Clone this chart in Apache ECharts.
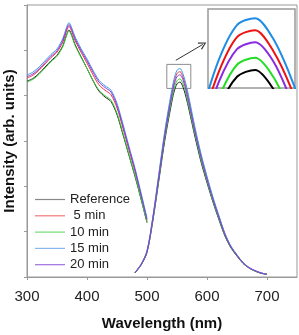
<!DOCTYPE html>
<html>
<head>
<meta charset="utf-8">
<script src="https://cdn.jsdelivr.net/npm/echarts@6/dist/echarts.min.js"></script>
<style>html,body{margin:0;padding:0;background:#fff;}#c{width:299px;height:335px;}</style>
</head>
<body>
<div id="c"></div>
<script>
const names = ['Reference', ' 5 min', '10 min', '15 min', '20 min'];
const xTicks = [300, 400, 500, 600, 700];

// Excitation spectra
const excWl = [300,310,320,330,340,350,360,365,370,375,380,390,400,410,420,430,440,450,460,470,480,490,500];
const excRef = [4.32,4.38,4.49,4.63,4.77,4.89,5.11,5.31,5.45,5.32,5.13,4.86,4.60,4.33,4.10,3.97,3.87,3.58,3.14,2.68,2.22,1.72,1.20];
const exc5   = [4.39,4.45,4.56,4.70,4.84,4.96,5.19,5.39,5.53,5.40,5.22,4.96,4.72,4.46,4.24,4.12,4.02,3.73,3.28,2.80,2.33,1.80,1.25];
const exc10  = [4.30,4.36,4.47,4.61,4.75,4.87,5.09,5.29,5.43,5.30,5.11,4.85,4.60,4.34,4.12,4.00,3.90,3.61,3.17,2.70,2.24,1.73,1.21];
const exc15  = [4.46,4.52,4.63,4.77,4.91,5.03,5.27,5.47,5.61,5.48,5.30,5.04,4.81,4.56,4.34,4.22,4.12,3.83,3.37,2.88,2.40,1.86,1.30];
const exc20  = [4.42,4.48,4.59,4.73,4.87,4.99,5.23,5.43,5.57,5.44,5.26,5.00,4.77,4.52,4.30,4.18,4.08,3.78,3.32,2.84,2.36,1.82,1.27];

// Emission spectra
const emWl  = [480,490,500,510,520,530,540,545,550,555,560,565,570,580,590,600,610,620,630,640,650,660,670,680,690,700];
const emRef = [0.09,0.26,0.54,1.26,2.15,3.04,3.77,4.08,4.26,4.30,4.19,3.97,3.69,3.09,2.54,2.08,1.65,1.26,0.90,0.64,0.46,0.30,0.20,0.13,0.08,0.06];
const em5   = [0.10,0.28,0.57,1.33,2.27,3.20,3.97,4.29,4.49,4.53,4.41,4.19,3.89,3.25,2.68,2.19,1.73,1.33,0.95,0.67,0.48,0.32,0.21,0.14,0.09,0.06];
const em10  = [0.10,0.27,0.55,1.28,2.19,3.09,3.83,4.14,4.33,4.37,4.26,4.04,3.75,3.14,2.58,2.11,1.67,1.28,0.91,0.65,0.47,0.30,0.20,0.13,0.09,0.06];
const em15  = [0.10,0.28,0.58,1.35,2.30,3.25,4.03,4.36,4.56,4.60,4.48,4.25,3.95,3.30,2.72,2.22,1.76,1.35,0.96,0.68,0.49,0.32,0.21,0.14,0.09,0.06];
const em20  = [0.10,0.27,0.56,1.31,2.23,3.15,3.91,4.23,4.42,4.46,4.35,4.12,3.83,3.20,2.64,2.15,1.71,1.31,0.93,0.66,0.48,0.31,0.20,0.14,0.09,0.06];

// Zoom box, arrow and inset window (data coordinates)
const zoomBoxX = [533, 573];
const zoomBoxY = [4.16, 4.69];
const arrowFrom = [548, 4.78];
const arrowTo = [593, 5.13];
const insetX = [542, 566];
const insetY = [4.195, 4.653];

const excSets = [excRef, exc5, exc10, exc15, exc20];
const emSets = [emRef, em5, em10, em15, em20];
const mainColors = ['#222222', '#ee3344', '#33cc33', '#3d9be9', '#8a3adf'];
const insetColors = ['#000000', '#ee1111', '#22dd22', '#1e8ce6', '#8a2be2'];
const legendColors = ['#888888', '#f07878', '#70dd70', '#88b8f0', '#a070e0'];

const zip = (xs, ys) => xs.map((x, i) => [x, ys[i]]);
const FONT = 'Liberation Sans, Arial, sans-serif';

const series = [];
names.forEach((n, i) => {
  series.push({
    name: n, type: 'line', xAxisIndex: 0, yAxisIndex: 0, smooth: 0.3,
    symbol: 'none', data: zip(excWl, excSets[i]),
    lineStyle: { color: mainColors[i], width: 1 }, itemStyle: { color: mainColors[i] }
  });
});
names.forEach((n, i) => {
  const s = {
    name: n, type: 'line', xAxisIndex: 0, yAxisIndex: 0, smooth: 0.3,
    symbol: 'none', data: zip(emWl, emSets[i]),
    lineStyle: { color: mainColors[i], width: 1 }, itemStyle: { color: mainColors[i] }
  };
  if (i === 0) {
    s.markArea = {
      silent: true,
      itemStyle: { color: 'rgba(0,0,0,0)', borderColor: '#8c8c8c', borderWidth: 1 },
      label: { show: false },
      data: [[{ coord: [zoomBoxX[0], zoomBoxY[1]] }, { coord: [zoomBoxX[1], zoomBoxY[0]] }]]
    };
    s.markLine = {
      silent: true, animation: false,
      symbol: ['none', 'path://M5,0 L10,9 L8.8,10 L5,2.6 L1.2,10 L0,9 Z'],
      symbolSize: 8,
      label: { show: false },
      lineStyle: { color: '#333', width: 1, type: 'solid' },
      data: [[{ coord: arrowFrom }, { coord: arrowTo }]]
    };
  }
  series.push(s);
});
names.forEach((n, i) => {
  series.push({
    name: 'inset' + i, type: 'line', xAxisIndex: 1, yAxisIndex: 1, smooth: 0.3,
    symbol: 'none', data: zip(emWl, emSets[i]), clip: true, z: 10,
    lineStyle: { color: insetColors[i], width: 2 }, itemStyle: { color: insetColors[i] }
  });
});

const chart = echarts.init(document.getElementById('c'), null, { renderer: 'canvas' });
chart.setOption({
  animation: false,
  backgroundColor: '#fff',
  textStyle: { fontFamily: FONT },
  legend: {
    orient: 'vertical', left: 35, top: 193, padding: 0,
    itemWidth: 30, itemHeight: 10, itemGap: 3.3,
    textStyle: { fontFamily: FONT, fontSize: 13, color: '#222' },
    data: names.map((n, i) => ({ name: n, icon: 'path://M0,4.4 L30,4.4 L30,5.6 L0,5.6 Z',
      itemStyle: { color: legendColors[i] }, lineStyle: { color: legendColors[i], width: 1.5 } })),
    selectedMode: false
  },
  grid: [
    { left: 27, top: 5, right: 2, bottom: 58, show: true, borderColor: '#999', borderWidth: 1,
      containLabel: false, outerBoundsMode: 'none' },
    { left: 208, top: 9, width: 87, height: 79, show: true, borderColor: '#999', borderWidth: 1.5,
      containLabel: false, outerBoundsMode: 'none' }
  ],
  xAxis: [
    {
      type: 'value', gridIndex: 0, min: 300, max: 750, interval: 100,
      name: 'Wavelength (nm)', nameLocation: 'middle', nameGap: 39,
      nameTextStyle: { fontFamily: FONT, fontSize: 15, fontWeight: 'bold', color: '#111' },
      axisLine: { show: true, lineStyle: { color: '#999' } },
      axisTick: { show: true, inside: false, length: 3, lineStyle: { color: '#999' }, customValues: xTicks },
      axisLabel: { fontFamily: FONT, fontSize: 15, color: '#222', margin: 12, customValues: xTicks },
      splitLine: { show: false }
    },
    { type: 'value', gridIndex: 1, min: insetX[0], max: insetX[1], show: false, splitLine: { show: false } }
  ],
  yAxis: [
    {
      type: 'value', gridIndex: 0, min: 0, max: 6, interval: 1,
      name: 'Intensity (arb. units)', nameLocation: 'middle', nameGap: 10, nameRotate: 90,
      nameTextStyle: { fontFamily: FONT, fontSize: 15, fontWeight: 'bold', color: '#111' },
      axisLine: { show: true, lineStyle: { color: '#999' } },
      axisTick: { show: true, inside: false, length: 3, lineStyle: { color: '#999' } },
      axisLabel: { show: false },
      splitLine: { show: false }
    },
    { type: 'value', gridIndex: 1, min: insetY[0], max: insetY[1], show: false, splitLine: { show: false } }
  ],
  series: series
});
</script>
</body>
</html>
